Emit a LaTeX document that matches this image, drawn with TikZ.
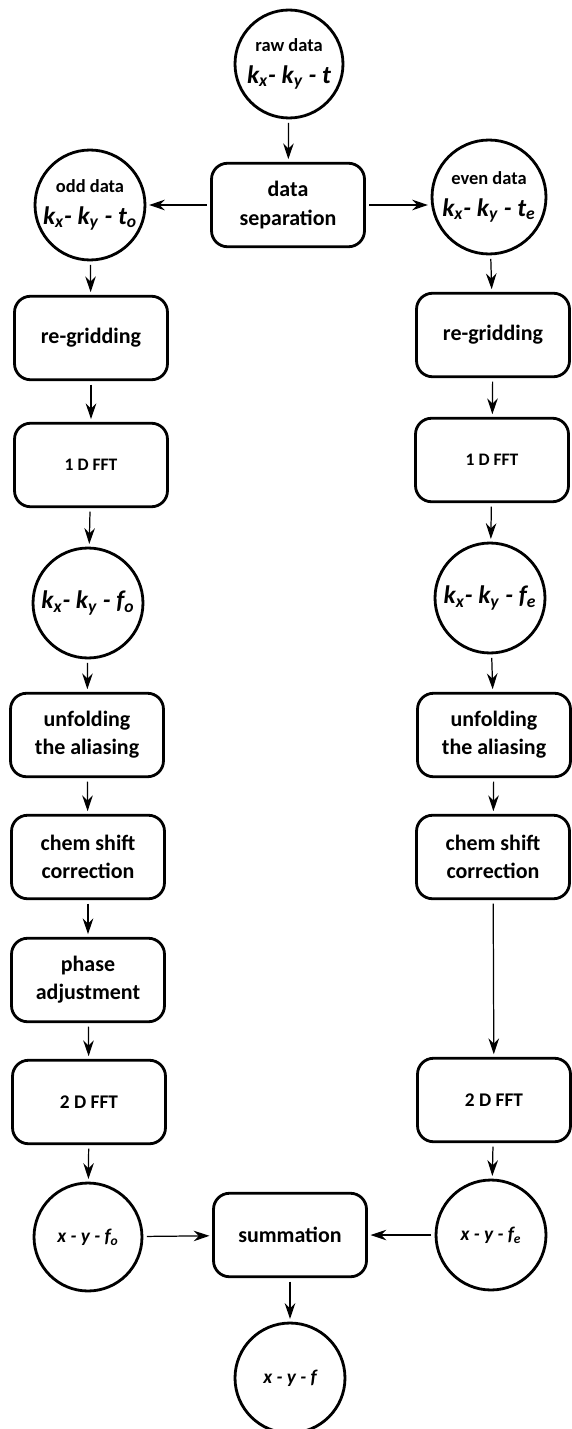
\documentclass[tikz,border=0pt]{standalone}
\usepackage{fontspec}
\setmainfont{Carlito}
\usetikzlibrary{shapes.geometric, arrows.meta}
\newcommand{\lo}[1]{\textsubscript{#1}}
\newcommand{\tagsize}{\fontsize{10.5}{13}\selectfont}
\tikzstyle{datacirc} = [
    circle,
    minimum size=2.2cm,
    inner sep=0pt,
    align=center,
    font=\bfseries\Large,
    line width=1.6pt,
    draw=black
]
\tikzstyle{process} = [
    rectangle,
    rounded corners=0.32cm,
    minimum width=3.06cm,
    minimum height=1.67cm,
    align=center,
    font=\bfseries\fontsize{12.5}{16}\selectfont,
    line width=1.6pt,
    draw=black
]
\tikzstyle{arrow} = [line width=0.7pt, shorten <=2pt, shorten >=1.5pt,
    -{Stealth[length=9pt,width=6pt]}]

\begin{document}
\begin{tikzpicture}[x=0.02cm, y=-0.02cm]
\useasboundingbox (0,0) rectangle (571,1429);

\node (raw) [datacirc, minimum size=2.16cm] at (289,64)
{{\tagsize raw data}\\ {\itshape k\lo{x}- k\lo{y} - t}};

\node (sep) [process] at (288,205)
{data\\ separation};

\node (odd) [datacirc] at (90,205)
{{\tagsize odd data}\\ {\itshape k\lo{x}- k\lo{y} - t\lo{o}}};

\node (even) [datacirc, minimum size=2.28cm] at (489,197)
{{\tagsize even data}\\ {\itshape k\lo{x}- k\lo{y} - t\lo{e}}};

% odd branch
\node (gridO) [process] at (91,338) {re-gridding};
\node (fftO) [process] at (91,465) {\fontsize{10}{12}\selectfont 1 D FFT};
\node (kfO) [datacirc] at (88,603)
{\itshape k\lo{x}- k\lo{y} - f\lo{o}};
\node (unfO) [process] at (87,735) {unfolding\\ the aliasing};
\node (chemO) [process] at (88,857) {chem shift\\ correction};
\node (phase) [process] at (88,980) {phase\\ adjustment};
\node (fft2O) [process] at (89,1102) {\fontsize{11}{13}\selectfont 2 D FFT};
\node (xyO) [datacirc, minimum size=2.16cm] at (88,1237)
{\fontsize{11}{13}\selectfont\itshape x - y - f\lo{o}};

% even branch
\node (gridE) [process] at (493,335) {re-gridding};
\node (fftE) [process] at (492,460) {\fontsize{10}{12}\selectfont 1 D FFT};
\node (kfE) [datacirc] at (490,598)
{\itshape k\lo{x}- k\lo{y} - f\lo{e}};
\node (unfE) [process] at (494,735) {unfolding\\ the aliasing};
\node (chemE) [process] at (493,857) {chem shift\\ correction};
\node (fft2E) [process] at (494,1100) {\fontsize{11}{13}\selectfont 2 D FFT};
\node (xyE) [datacirc] at (491,1235)
{\fontsize{11}{13}\selectfont\itshape x - y - f\lo{e}};

% merge
\node (sum) [process] at (290,1235) {summation};
\node (xy) [datacirc] at (290,1378)
{\fontsize{11}{13}\selectfont\itshape x - y - f};

\draw [arrow] (raw) -- (sep);
\draw [arrow] (sep) -- (odd);
\draw [arrow] (sep.east) -- (sep.east -| even.west);

\draw [arrow] (odd) -- (gridO);
\draw [arrow] (gridO) -- (fftO);
\draw [arrow] (fftO) -- (kfO);
\draw [arrow] (kfO) -- (unfO);
\draw [arrow] (unfO) -- (chemO);
\draw [arrow] (chemO) -- (phase);
\draw [arrow] (phase) -- (fft2O);
\draw [arrow] (fft2O) -- (xyO);

\draw [arrow] (even) -- (gridE);
\draw [arrow] (gridE) -- (fftE);
\draw [arrow] (fftE) -- (kfE);
\draw [arrow] (kfE) -- (unfE);
\draw [arrow] (unfE) -- (chemE);
\draw [arrow] (chemE) -- (fft2E);
\draw [arrow] (fft2E) -- (xyE);

\draw [arrow] (xyO) -- (sum);
\draw [arrow] (xyE) -- (sum);
\draw [arrow] (sum) -- (xy);

\end{tikzpicture}
\end{document}
